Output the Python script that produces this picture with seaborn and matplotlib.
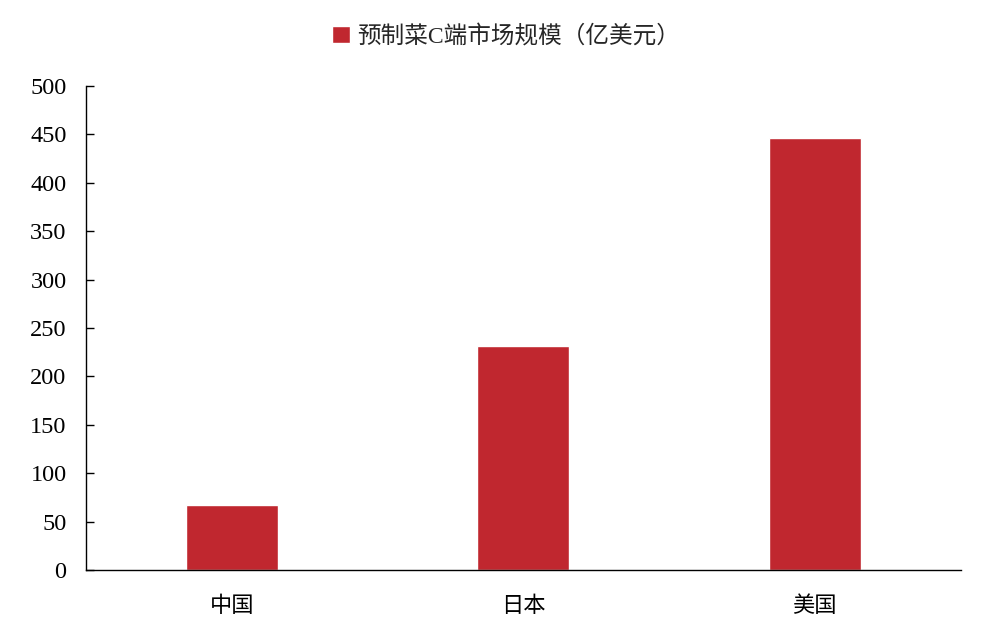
import matplotlib
matplotlib.use("Agg")
import matplotlib.pyplot as plt
import seaborn as sns
import pandas as pd

categories = ["中国", "日本", "美国"]
values = [67, 231, 446]
series_name = "预制菜C端市场规模（亿美元）"

sns.set_theme(style="white")
plt.rcParams['font.family'] = ['Liberation Serif', 'Noto Sans CJK SC', 'DejaVu Sans']

df = pd.DataFrame({"cat": categories, "val": values})

fig = plt.figure(figsize=(10.04, 6.22), dpi=100)
ax = fig.add_axes([0.0857, 0.0836, 0.871, 0.778])
sns.barplot(data=df, x="cat", y="val", color="#C0272F", saturation=1,
            width=0.316, ax=ax, label=series_name)

ax.set_ylim(0, 500)
ax.set_yticks(range(0, 501, 50))
ax.set_xlim(-0.5, 2.5)
ax.set_xlabel("")
ax.set_ylabel("")
for s in ["top", "right"]:
    ax.spines[s].set_visible(False)
for s in ["left", "bottom"]:
    ax.spines[s].set_color("#000000")
    ax.spines[s].set_linewidth(1.0)
ax.tick_params(axis="y", direction="in", length=6, width=1, color="black",
               labelsize=17.5, labelcolor="black", left=True, pad=14)
ax.tick_params(axis="x", length=0, labelsize=16, labelcolor="black", pad=17)
for t in ax.get_xticklabels():
    t.set_fontfamily(['Noto Sans CJK SC'])

leg = ax.legend(loc="lower center", bbox_to_anchor=(0.48, 1.035), frameon=False,
                handlelength=0.75, handleheight=0.75, handletextpad=0.3,
                prop={'family': ['Liberation Serif', 'Noto Sans CJK SC'], 'size': 17})

fig.savefig("out.png", dpi=100)
